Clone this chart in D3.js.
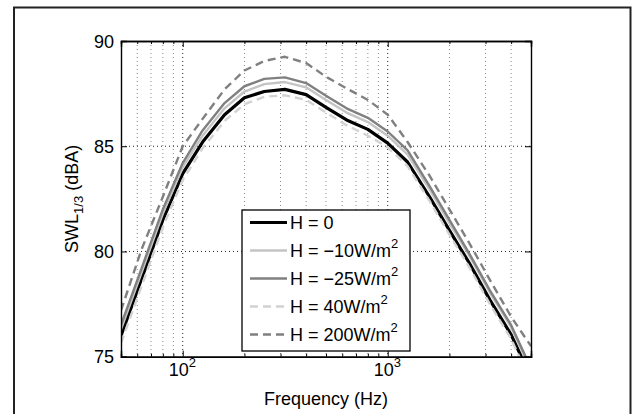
<!DOCTYPE html>
<html>
<head>
<meta charset="utf-8">
<script src="https://cdn.jsdelivr.net/npm/d3@7"></script>
<style>
  body { margin: 0; background: #fff; }
  svg { font-family: "Liberation Sans", Arial, sans-serif; }
</style>
</head>
<body>
<svg id="chart" width="634" height="414"></svg>
<script>
// one-third octave band centre frequencies (Hz)
const freqs = [50, 63, 80, 100, 125, 160, 200, 250, 315, 400, 500, 630, 800, 1000, 1250, 1600, 2000, 2500, 3150, 4000, 5000];

// SWL 1/3 (dBA)
const h0    = [76.0, 78.7, 81.5, 83.7, 85.2, 86.5, 87.3, 87.6, 87.7, 87.45, 86.85, 86.25, 85.8, 85.15, 84.25, 82.6, 81.0, 79.45, 77.7, 76.05, 74.0];
const hm10  = [76.3, 79.0, 81.8, 84.0, 85.5, 86.8, 87.6, 87.95, 88.05, 87.8, 87.2, 86.6, 86.15, 85.5, 84.6, 82.95, 81.35, 79.8, 78.05, 76.4, 74.35];
const hm25  = [76.5, 79.2, 82.0, 84.2, 85.75, 87.05, 87.85, 88.2, 88.27, 88.0, 87.4, 86.8, 86.35, 85.7, 84.8, 83.1, 81.5, 79.9, 78.15, 76.5, 74.45];
const h40   = [75.65, 78.35, 81.15, 83.4, 84.9, 86.2, 87.0, 87.35, 87.42, 87.2, 86.6, 86.0, 85.5, 84.95, 84.05, 82.4, 80.8, 79.25, 77.5, 75.85, 73.8];
const h200  = [77.2, 80.1, 82.6, 85.0, 86.3, 87.7, 88.6, 89.05, 89.25, 88.95, 88.3, 87.75, 87.2, 86.5, 85.2, 83.6, 82.0, 80.4, 78.65, 76.9, 75.5];

const yTicks = [75, 80, 85, 90];
const xMajor = [100, 1000];
const xExp = ['2', '3'];

const series = [
  { label: 'H = 0', sup: '', values: h0, color: '#000', width: 3.2, dash: null },
  { label: 'H = \u221210W/m', sup: '2', values: hm10, color: '#c4c4c4', width: 2.4, dash: null },
  { label: 'H = \u221225W/m', sup: '2', values: hm25, color: '#808080', width: 2.4, dash: null },
  { label: 'H = 40W/m', sup: '2', values: h40, color: '#d2d2d2', width: 2.4, dash: '8,5' },
  { label: 'H = 200W/m', sup: '2', values: h200, color: '#808080', width: 2.4, dash: '8,5' }
];

const svg = d3.select('#chart');
const pLeft = 121, pRight = 531, pTop = 41, pBottom = 356.7;

// outer frame (bottom edge is outside the picture)
svg.append('rect')
  .attr('x', 14).attr('y', 7.5)
  .attr('width', 616.5).attr('height', 420)
  .attr('fill', 'none').attr('stroke', '#222').attr('stroke-width', 2);

let x = d3.scaleLog().domain([50, 5000]).range([pLeft, pRight]);
let y = d3.scaleLinear().domain([75, 90]).range([pBottom, pTop]);

let minor = [];
[10, 100, 1000].forEach(dec => {
  for (let k = 2; k <= 9; k++) {
    let v = dec * k;
    if (v > 50 && v < 5000) minor.push(v);
  }
});

let grid = svg.append('g');
grid.selectAll('.xminor').data(minor).enter()
  .append('line')
  .attr('x1', d => x(d)).attr('x2', d => x(d))
  .attr('y1', pTop).attr('y2', pBottom)
  .attr('stroke', '#8a8a8a').attr('stroke-dasharray', '1,3');
grid.selectAll('.xmajor').data(xMajor).enter()
  .append('line')
  .attr('x1', d => x(d)).attr('x2', d => x(d))
  .attr('y1', pTop).attr('y2', pBottom)
  .attr('stroke', '#222').attr('stroke-dasharray', '1,3');
grid.selectAll('.ygrid').data(yTicks.slice(1, 3)).enter()
  .append('line')
  .attr('x1', pLeft).attr('x2', pRight)
  .attr('y1', d => y(d)).attr('y2', d => y(d))
  .attr('stroke', '#222').attr('stroke-dasharray', '1,3');

// curves
svg.append('clipPath').attr('id', 'clip')
  .append('rect').attr('x', pLeft).attr('y', pTop)
  .attr('width', pRight - pLeft).attr('height', pBottom - pTop);

let line = d3.line()
  .x((d, i) => x(freqs[i]))
  .y(d => y(d));

svg.append('g').attr('clip-path', 'url(#clip)')
  .selectAll('path').data(series).enter()
  .append('path')
  .attr('d', d => line(d.values))
  .attr('fill', 'none')
  .attr('stroke', d => d.color)
  .attr('stroke-width', d => d.width)
  .attr('stroke-dasharray', d => d.dash)
  .attr('stroke-linejoin', 'round');

// axes: ticks inward on all four sides
svg.append('g').attr('transform', `translate(0,${pBottom})`)
  .call(d3.axisBottom(x).tickValues(xMajor).tickSize(-6).tickFormat(''));
svg.append('g').attr('transform', `translate(0,${pTop})`)
  .call(d3.axisTop(x).tickValues(xMajor).tickSize(-6).tickFormat(''));
svg.append('g').attr('transform', `translate(0,${pBottom})`)
  .call(d3.axisBottom(x).tickValues(minor).tickSize(-3).tickFormat(''));
svg.append('g').attr('transform', `translate(0,${pTop})`)
  .call(d3.axisTop(x).tickValues(minor).tickSize(-3).tickFormat(''));
svg.append('g').attr('transform', `translate(${pLeft},0)`)
  .call(d3.axisLeft(y).tickValues(yTicks).tickSize(-6).tickFormat(''));
svg.append('g').attr('transform', `translate(${pRight},0)`)
  .call(d3.axisRight(y).tickValues(yTicks).tickSize(-6).tickFormat(''));

svg.selectAll('.domain').attr('stroke', '#000').attr('stroke-width', 1.4);
svg.selectAll('.tick line').attr('stroke', '#000');

// y tick labels
svg.selectAll('.ylab').data(yTicks).enter()
  .append('text')
  .attr('x', 114).attr('y', d => y(d) + 6.5)
  .attr('text-anchor', 'end')
  .style('font-size', '18px')
  .text(d => d);

// x tick labels 10^n
let xl = svg.selectAll('.xlab').data(xMajor).enter()
  .append('text')
  .attr('x', d => x(d) - 14).attr('y', 376)
  .style('font-size', '18px');
xl.append('tspan').text('10');
xl.append('tspan').attr('dy', -9).style('font-size', '13px').text((d, i) => xExp[i]);

// axis titles
svg.append('text')
  .attr('x', (pLeft + pRight) / 2).attr('y', 405)
  .attr('text-anchor', 'middle')
  .style('font-size', '18px')
  .text('Frequency (Hz)');

let yt = svg.append('text')
  .attr('transform', `translate(78,${(pTop + pBottom) / 2}) rotate(-90)`)
  .attr('text-anchor', 'middle')
  .style('font-size', '18px');
yt.append('tspan').text('SWL');
yt.append('tspan').attr('dy', 5).style('font-size', '13px').text('1/3');
yt.append('tspan').attr('dy', -5).text(' (dBA)');

// legend
let lg = svg.append('g');
lg.append('rect')
  .attr('x', 242).attr('y', 210)
  .attr('width', 168).attr('height', 141)
  .attr('fill', '#fff').attr('stroke', '#000').attr('stroke-width', 1.3);

let rows = lg.selectAll('.row').data(series).enter()
  .append('g')
  .attr('transform', (d, i) => `translate(0,${222.5 + i * 28})`);
rows.append('line')
  .attr('x1', 250).attr('x2', 287)
  .attr('stroke', d => d.color)
  .attr('stroke-width', d => d.width)
  .attr('stroke-dasharray', d => d.dash);
let rt = rows.append('text')
  .attr('x', 290).attr('y', 6.5)
  .style('font-size', '18px');
rt.append('tspan').text(d => d.label);
rt.append('tspan').attr('dy', -9).style('font-size', '13px').text(d => d.sup);
</script>
</body>
</html>
